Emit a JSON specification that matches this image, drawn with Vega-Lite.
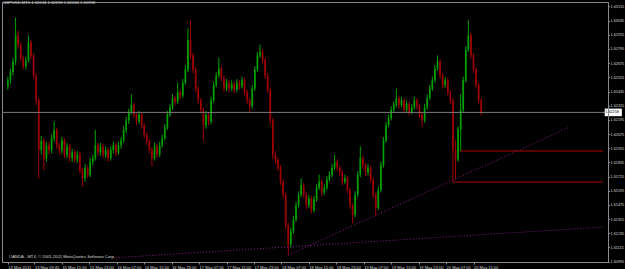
{
  "$schema": "https://vega.github.io/schema/vega-lite/v6.json",
  "width": 606,
  "height": 260,
  "autosize": "none",
  "padding": {"left": 2, "top": 2, "right": 17, "bottom": 7},
  "background": "#000000",
  "config": {
    "view": {"stroke": "#8a8a8a", "strokeWidth": 1},
    "text": {"font": "Liberation Sans"}
  },
  "title": {"text": "GBPUSD,M15  1.62244 1.62258 1.62244 1.62258", "anchor": "start", "frame": "group", "orient": "top", "baseline": "top", "offset": -3, "dx": 1, "fontSize": 4.2, "font": "Liberation Sans", "fontWeight": "normal", "color": "#d8d8d8"},
  "resolve": {"axis": {"x": "independent", "y": "independent"}},
  "datasets": {
    "candles": [
      {"i":0,"o":1.6248,"h":1.6256,"l":1.6245,"c":1.6253},
      {"i":3,"o":1.6253,"h":1.6263,"l":1.6250,"c":1.6260},
      {"i":6,"o":1.6260,"h":1.6272,"l":1.6257,"c":1.6269},
      {"i":9,"o":1.6269,"h":1.6306,"l":1.6266,"c":1.6291},
      {"i":12,"o":1.6291,"h":1.6295,"l":1.6280,"c":1.6283},
      {"i":15,"o":1.6283,"h":1.6285,"l":1.6269,"c":1.6272},
      {"i":18,"o":1.6272,"h":1.6274,"l":1.6262,"c":1.6265},
      {"i":21,"o":1.6265,"h":1.6273,"l":1.6262,"c":1.6270},
      {"i":24,"o":1.6270,"h":1.6291,"l":1.6268,"c":1.6285},
      {"i":27,"o":1.6285,"h":1.6287,"l":1.6271,"c":1.6274},
      {"i":30,"o":1.6274,"h":1.6276,"l":1.6254,"c":1.6257},
      {"i":33,"o":1.6257,"h":1.6259,"l":1.6232,"c":1.6236},
      {"i":36,"o":1.6236,"h":1.6238,"l":1.6170,"c":1.6194},
      {"i":39,"o":1.6194,"h":1.6206,"l":1.6190,"c":1.6202},
      {"i":42,"o":1.6202,"h":1.6204,"l":1.6177,"c":1.6187},
      {"i":45,"o":1.6187,"h":1.6201,"l":1.6184,"c":1.6198},
      {"i":48,"o":1.6198,"h":1.6201,"l":1.6190,"c":1.6194},
      {"i":51,"o":1.6194,"h":1.6207,"l":1.6191,"c":1.6204},
      {"i":54,"o":1.6204,"h":1.6218,"l":1.6201,"c":1.6211},
      {"i":57,"o":1.6211,"h":1.6213,"l":1.6195,"c":1.6198},
      {"i":60,"o":1.6198,"h":1.6200,"l":1.6190,"c":1.6194},
      {"i":63,"o":1.6194,"h":1.6205,"l":1.6191,"c":1.6202},
      {"i":66,"o":1.6202,"h":1.6204,"l":1.6187,"c":1.6190},
      {"i":69,"o":1.6190,"h":1.6200,"l":1.6187,"c":1.6197},
      {"i":72,"o":1.6197,"h":1.6199,"l":1.6184,"c":1.6187},
      {"i":75,"o":1.6187,"h":1.6195,"l":1.6184,"c":1.6192},
      {"i":78,"o":1.6192,"h":1.6194,"l":1.6183,"c":1.6186},
      {"i":81,"o":1.6186,"h":1.6193,"l":1.6183,"c":1.6190},
      {"i":84,"o":1.6190,"h":1.6192,"l":1.6174,"c":1.6177},
      {"i":87,"o":1.6177,"h":1.6179,"l":1.6163,"c":1.6170},
      {"i":90,"o":1.6170,"h":1.6182,"l":1.6167,"c":1.6179},
      {"i":93,"o":1.6179,"h":1.6181,"l":1.6170,"c":1.6173},
      {"i":96,"o":1.6173,"h":1.6187,"l":1.6171,"c":1.6184},
      {"i":99,"o":1.6184,"h":1.6190,"l":1.6181,"c":1.6187},
      {"i":102,"o":1.6187,"h":1.6211,"l":1.6185,"c":1.6198},
      {"i":105,"o":1.6198,"h":1.6200,"l":1.6189,"c":1.6192},
      {"i":108,"o":1.6192,"h":1.6200,"l":1.6189,"c":1.6197},
      {"i":111,"o":1.6197,"h":1.6199,"l":1.6187,"c":1.6190},
      {"i":114,"o":1.6190,"h":1.6197,"l":1.6187,"c":1.6194},
      {"i":117,"o":1.6194,"h":1.6196,"l":1.6184,"c":1.6187},
      {"i":120,"o":1.6187,"h":1.6197,"l":1.6185,"c":1.6194},
      {"i":123,"o":1.6194,"h":1.6201,"l":1.6191,"c":1.6198},
      {"i":126,"o":1.6198,"h":1.6200,"l":1.6189,"c":1.6192},
      {"i":129,"o":1.6192,"h":1.6201,"l":1.6190,"c":1.6198},
      {"i":132,"o":1.6198,"h":1.6205,"l":1.6195,"c":1.6202},
      {"i":135,"o":1.6202,"h":1.6214,"l":1.6200,"c":1.6211},
      {"i":138,"o":1.6211,"h":1.6222,"l":1.6208,"c":1.6219},
      {"i":141,"o":1.6219,"h":1.6229,"l":1.6216,"c":1.6226},
      {"i":144,"o":1.6226,"h":1.6241,"l":1.6224,"c":1.6232},
      {"i":147,"o":1.6232,"h":1.6234,"l":1.6221,"c":1.6224},
      {"i":150,"o":1.6224,"h":1.6226,"l":1.6215,"c":1.6218},
      {"i":153,"o":1.6218,"h":1.6227,"l":1.6216,"c":1.6224},
      {"i":156,"o":1.6224,"h":1.6226,"l":1.6212,"c":1.6215},
      {"i":159,"o":1.6215,"h":1.6217,"l":1.6204,"c":1.6207},
      {"i":162,"o":1.6207,"h":1.6209,"l":1.6198,"c":1.6201},
      {"i":165,"o":1.6201,"h":1.6203,"l":1.6191,"c":1.6194},
      {"i":168,"o":1.6194,"h":1.6196,"l":1.6180,"c":1.6187},
      {"i":171,"o":1.6187,"h":1.6200,"l":1.6185,"c":1.6197},
      {"i":174,"o":1.6197,"h":1.6199,"l":1.6187,"c":1.6190},
      {"i":177,"o":1.6190,"h":1.6201,"l":1.6188,"c":1.6198},
      {"i":180,"o":1.6198,"h":1.6207,"l":1.6196,"c":1.6204},
      {"i":183,"o":1.6204,"h":1.6216,"l":1.6202,"c":1.6213},
      {"i":186,"o":1.6213,"h":1.6227,"l":1.6211,"c":1.6224},
      {"i":189,"o":1.6224,"h":1.6233,"l":1.6222,"c":1.6230},
      {"i":192,"o":1.6230,"h":1.6241,"l":1.6228,"c":1.6238},
      {"i":195,"o":1.6238,"h":1.6240,"l":1.6232,"c":1.6235},
      {"i":198,"o":1.6235,"h":1.6251,"l":1.6233,"c":1.6243},
      {"i":201,"o":1.6243,"h":1.6245,"l":1.6237,"c":1.6240},
      {"i":204,"o":1.6240,"h":1.6254,"l":1.6238,"c":1.6251},
      {"i":207,"o":1.6251,"h":1.6266,"l":1.6249,"c":1.6262},
      {"i":210,"o":1.6262,"h":1.6297,"l":1.6260,"c":1.6287},
      {"i":213,"o":1.6287,"h":1.6304,"l":1.6271,"c":1.6274},
      {"i":216,"o":1.6274,"h":1.6276,"l":1.6259,"c":1.6262},
      {"i":219,"o":1.6262,"h":1.6264,"l":1.6243,"c":1.6246},
      {"i":222,"o":1.6246,"h":1.6248,"l":1.6233,"c":1.6236},
      {"i":225,"o":1.6236,"h":1.6238,"l":1.6225,"c":1.6228},
      {"i":228,"o":1.6228,"h":1.6230,"l":1.6202,"c":1.6215},
      {"i":231,"o":1.6215,"h":1.6227,"l":1.6212,"c":1.6224},
      {"i":234,"o":1.6224,"h":1.6226,"l":1.6215,"c":1.6218},
      {"i":237,"o":1.6218,"h":1.6239,"l":1.6216,"c":1.6236},
      {"i":240,"o":1.6236,"h":1.6252,"l":1.6234,"c":1.6249},
      {"i":243,"o":1.6249,"h":1.6260,"l":1.6247,"c":1.6257},
      {"i":246,"o":1.6257,"h":1.6272,"l":1.6255,"c":1.6263},
      {"i":249,"o":1.6263,"h":1.6265,"l":1.6252,"c":1.6255},
      {"i":252,"o":1.6255,"h":1.6257,"l":1.6243,"c":1.6246},
      {"i":255,"o":1.6246,"h":1.6254,"l":1.6244,"c":1.6251},
      {"i":258,"o":1.6251,"h":1.6253,"l":1.6243,"c":1.6246},
      {"i":261,"o":1.6246,"h":1.6253,"l":1.6244,"c":1.6250},
      {"i":264,"o":1.6250,"h":1.6252,"l":1.6242,"c":1.6245},
      {"i":267,"o":1.6245,"h":1.6254,"l":1.6243,"c":1.6251},
      {"i":270,"o":1.6251,"h":1.6253,"l":1.6245,"c":1.6248},
      {"i":273,"o":1.6248,"h":1.6256,"l":1.6246,"c":1.6253},
      {"i":276,"o":1.6253,"h":1.6255,"l":1.6240,"c":1.6243},
      {"i":279,"o":1.6243,"h":1.6245,"l":1.6233,"c":1.6236},
      {"i":282,"o":1.6236,"h":1.6238,"l":1.6226,"c":1.6231},
      {"i":285,"o":1.6231,"h":1.6249,"l":1.6229,"c":1.6246},
      {"i":288,"o":1.6246,"h":1.6265,"l":1.6244,"c":1.6262},
      {"i":291,"o":1.6262,"h":1.6277,"l":1.6260,"c":1.6274},
      {"i":294,"o":1.6274,"h":1.6283,"l":1.6272,"c":1.6277},
      {"i":297,"o":1.6277,"h":1.6279,"l":1.6267,"c":1.6270},
      {"i":300,"o":1.6270,"h":1.6272,"l":1.6254,"c":1.6257},
      {"i":303,"o":1.6257,"h":1.6259,"l":1.6242,"c":1.6245},
      {"i":306,"o":1.6245,"h":1.6247,"l":1.6216,"c":1.6219},
      {"i":309,"o":1.6219,"h":1.6221,"l":1.6186,"c":1.6190},
      {"i":312,"o":1.6190,"h":1.6193,"l":1.6182,"c":1.6186},
      {"i":315,"o":1.6186,"h":1.6188,"l":1.6176,"c":1.6179},
      {"i":318,"o":1.6179,"h":1.6181,"l":1.6164,"c":1.6167},
      {"i":321,"o":1.6167,"h":1.6169,"l":1.6153,"c":1.6156},
      {"i":324,"o":1.6156,"h":1.6158,"l":1.6127,"c":1.6130},
      {"i":327,"o":1.6130,"h":1.6132,"l":1.6105,"c":1.6114},
      {"i":330,"o":1.6114,"h":1.6128,"l":1.6111,"c":1.6125},
      {"i":333,"o":1.6125,"h":1.6138,"l":1.6123,"c":1.6135},
      {"i":336,"o":1.6135,"h":1.6150,"l":1.6133,"c":1.6147},
      {"i":339,"o":1.6147,"h":1.6159,"l":1.6145,"c":1.6156},
      {"i":342,"o":1.6156,"h":1.6170,"l":1.6154,"c":1.6164},
      {"i":345,"o":1.6164,"h":1.6166,"l":1.6153,"c":1.6156},
      {"i":348,"o":1.6156,"h":1.6158,"l":1.6144,"c":1.6147},
      {"i":351,"o":1.6147,"h":1.6156,"l":1.6145,"c":1.6153},
      {"i":354,"o":1.6153,"h":1.6155,"l":1.6140,"c":1.6143},
      {"i":357,"o":1.6143,"h":1.6155,"l":1.6141,"c":1.6152},
      {"i":360,"o":1.6152,"h":1.6165,"l":1.6150,"c":1.6162},
      {"i":363,"o":1.6162,"h":1.6173,"l":1.6160,"c":1.6167},
      {"i":366,"o":1.6167,"h":1.6169,"l":1.6155,"c":1.6158},
      {"i":369,"o":1.6158,"h":1.6165,"l":1.6156,"c":1.6162},
      {"i":372,"o":1.6162,"h":1.6172,"l":1.6160,"c":1.6169},
      {"i":375,"o":1.6169,"h":1.6176,"l":1.6167,"c":1.6173},
      {"i":378,"o":1.6173,"h":1.6182,"l":1.6171,"c":1.6179},
      {"i":381,"o":1.6179,"h":1.6190,"l":1.6177,"c":1.6184},
      {"i":384,"o":1.6184,"h":1.6186,"l":1.6176,"c":1.6179},
      {"i":387,"o":1.6179,"h":1.6181,"l":1.6172,"c":1.6175},
      {"i":390,"o":1.6175,"h":1.6177,"l":1.6164,"c":1.6167},
      {"i":393,"o":1.6167,"h":1.6173,"l":1.6165,"c":1.6170},
      {"i":396,"o":1.6170,"h":1.6172,"l":1.6157,"c":1.6160},
      {"i":399,"o":1.6160,"h":1.6162,"l":1.6144,"c":1.6147},
      {"i":402,"o":1.6147,"h":1.6149,"l":1.6132,"c":1.6139},
      {"i":405,"o":1.6139,"h":1.6159,"l":1.6137,"c":1.6156},
      {"i":408,"o":1.6156,"h":1.6176,"l":1.6154,"c":1.6173},
      {"i":411,"o":1.6173,"h":1.6197,"l":1.6171,"c":1.6187},
      {"i":414,"o":1.6187,"h":1.6189,"l":1.6178,"c":1.6181},
      {"i":417,"o":1.6181,"h":1.6183,"l":1.6172,"c":1.6175},
      {"i":420,"o":1.6175,"h":1.6182,"l":1.6173,"c":1.6179},
      {"i":423,"o":1.6179,"h":1.6181,"l":1.6166,"c":1.6169},
      {"i":426,"o":1.6169,"h":1.6171,"l":1.6153,"c":1.6156},
      {"i":429,"o":1.6156,"h":1.6158,"l":1.6138,"c":1.6145},
      {"i":432,"o":1.6145,"h":1.6163,"l":1.6143,"c":1.6160},
      {"i":435,"o":1.6160,"h":1.6184,"l":1.6158,"c":1.6181},
      {"i":438,"o":1.6181,"h":1.6205,"l":1.6179,"c":1.6202},
      {"i":441,"o":1.6202,"h":1.6218,"l":1.6200,"c":1.6215},
      {"i":444,"o":1.6215,"h":1.6224,"l":1.6213,"c":1.6221},
      {"i":447,"o":1.6221,"h":1.6231,"l":1.6219,"c":1.6228},
      {"i":450,"o":1.6228,"h":1.6235,"l":1.6226,"c":1.6232},
      {"i":453,"o":1.6232,"h":1.6246,"l":1.6230,"c":1.6238},
      {"i":456,"o":1.6238,"h":1.6240,"l":1.6229,"c":1.6232},
      {"i":459,"o":1.6232,"h":1.6239,"l":1.6230,"c":1.6236},
      {"i":462,"o":1.6236,"h":1.6238,"l":1.6225,"c":1.6228},
      {"i":465,"o":1.6228,"h":1.6236,"l":1.6226,"c":1.6233},
      {"i":468,"o":1.6233,"h":1.6235,"l":1.6223,"c":1.6226},
      {"i":471,"o":1.6226,"h":1.6233,"l":1.6224,"c":1.6230},
      {"i":474,"o":1.6230,"h":1.6239,"l":1.6228,"c":1.6236},
      {"i":477,"o":1.6236,"h":1.6238,"l":1.6228,"c":1.6231},
      {"i":480,"o":1.6231,"h":1.6233,"l":1.6221,"c":1.6224},
      {"i":483,"o":1.6224,"h":1.6226,"l":1.6214,"c":1.6219},
      {"i":486,"o":1.6219,"h":1.6233,"l":1.6217,"c":1.6230},
      {"i":489,"o":1.6230,"h":1.6241,"l":1.6228,"c":1.6238},
      {"i":492,"o":1.6238,"h":1.6249,"l":1.6236,"c":1.6246},
      {"i":495,"o":1.6246,"h":1.6256,"l":1.6244,"c":1.6253},
      {"i":498,"o":1.6253,"h":1.6266,"l":1.6251,"c":1.6263},
      {"i":501,"o":1.6263,"h":1.6274,"l":1.6261,"c":1.6269},
      {"i":504,"o":1.6269,"h":1.6271,"l":1.6254,"c":1.6257},
      {"i":507,"o":1.6257,"h":1.6259,"l":1.6246,"c":1.6249},
      {"i":510,"o":1.6249,"h":1.6256,"l":1.6247,"c":1.6253},
      {"i":513,"o":1.6253,"h":1.6255,"l":1.6240,"c":1.6243},
      {"i":516,"o":1.6243,"h":1.6245,"l":1.6233,"c":1.6236},
      {"i":519,"o":1.6236,"h":1.6238,"l":1.61668,"c":1.6194},
      {"i":522,"o":1.6194,"h":1.6202,"l":1.6169,"c":1.6186},
      {"i":525,"o":1.6186,"h":1.6214,"l":1.6184,"c":1.6211},
      {"i":528,"o":1.6211,"h":1.6241,"l":1.61931,"c":1.6228},
      {"i":531,"o":1.6228,"h":1.6256,"l":1.6226,"c":1.6253},
      {"i":534,"o":1.6253,"h":1.6282,"l":1.6251,"c":1.6279},
      {"i":537,"o":1.6279,"h":1.6304,"l":1.6277,"c":1.6291},
      {"i":540,"o":1.6291,"h":1.6293,"l":1.6271,"c":1.6274},
      {"i":543,"o":1.6274,"h":1.6276,"l":1.6259,"c":1.6262},
      {"i":546,"o":1.6262,"h":1.6264,"l":1.6246,"c":1.6249},
      {"i":549,"o":1.6249,"h":1.6251,"l":1.6233,"c":1.6236},
      {"i":552,"o":1.6236,"h":1.6238,"l":1.6223,"c":1.62258}
    ],
    "levels": [
      {"i":519,"i2":694,"p":1.61668},
      {"i":528,"i2":694,"p":1.61931}
    ],
    "trend": [
      {"name":"A","i":327,"p":1.6105},
      {"name":"A","i":655,"p":1.62134},
      {"name":"B","i":123,"p":1.61026},
      {"name":"B","i":694,"p":1.61287}
    ],
    "bid": [{"p":1.62258,"label":"1.62258"}],
    "note": [{"i":-1,"p":1.61033,"label":"OANDA - MT4, © 2001-2011 MetaQuotes Software Corp."}]
  },
  "layer": [
    {
      "data": {"name": "candles"},
      "mark": {"type": "rule", "strokeWidth": 1},
      "encoding": {
        "x": {"field": "i", "type": "quantitative", "scale": {"domain": [-1, 694], "nice": false, "zero": false},
          "axis": {"orient": "bottom", "title": null, "grid": false, "domain": false,
            "values": [0,31,63,95,127,159,191,223,255,287,319,351,383,415,447,479,511,543],
            "labelExpr": "['13 May 2011','13 May 09:45','15 May 15:00','15 May 23:00','16 May 07:00','16 May 15:00','16 May 23:00','17 May 07:00','17 May 15:00','17 May 23:00','18 May 07:00','18 May 15:00','18 May 23:00','19 May 07:00','19 May 15:00','19 May 23:00','20 May 07:00','20 May 15:00'][round((datum.value+1)/32)]",
            "labelAlign": "left", "labelBaseline": "top", "labelPadding": 1, "labelFont": "Liberation Sans", "labelFontSize": 4, "labelColor": "#d8d8d8",
            "labelOverlap": false, "tickSize": 2, "tickColor": "#8a8a8a", "zindex": 2}},
        "y": {"field": "l", "type": "quantitative", "scale": {"domain": [1.60991, 1.63193], "nice": false, "zero": false},
          "axis": {"orient": "right", "title": null, "grid": false, "domainColor": "#8a8a8a",
            "values": [1.63155,1.63035,1.62915,1.62795,1.62675,1.62555,1.62435,1.62315,1.62195,1.62075,1.61955,1.61835,1.61715,1.61595,1.61475,1.61355,1.61235,1.61115,1.60995],
            "format": ".5f", "labelAlign": "left", "labelBaseline": "middle", "labelPadding": 0.5, "labelFont": "Liberation Sans", "labelFontSize": 3.8, "labelColor": "#d8d8d8",
            "labelOverlap": false, "tickSize": 1.5, "tickColor": "#8a8a8a", "zindex": 2}},
        "y2": {"field": "h"},
        "color": {"condition": {"test": "datum.c >= datum.o", "value": "#00a000"}, "value": "#a00000"}
      }
    },
    {
      "data": {"name": "candles"},
      "mark": {"type": "bar", "width": 1.7},
      "encoding": {
        "x": {"field": "i", "type": "quantitative", "scale": {"domain": [-1, 694], "nice": false, "zero": false}, "axis": null},
        "y": {"field": "o", "type": "quantitative", "scale": {"domain": [1.60991, 1.63193], "nice": false, "zero": false}, "axis": null},
        "y2": {"field": "c"},
        "color": {"condition": {"test": "datum.c >= datum.o", "value": "#00a000"}, "value": "#a00000"}
      }
    },
    {
      "data": {"name": "bid"},
      "mark": {"type": "rule", "color": "#7a7a7a", "strokeWidth": 1},
      "encoding": {
        "y": {"field": "p", "type": "quantitative", "scale": {"domain": [1.60991, 1.63193], "nice": false, "zero": false}, "axis": null}
      }
    },
    {
      "data": {"name": "levels"},
      "mark": {"type": "rule", "color": "#b00000", "strokeWidth": 1},
      "encoding": {
        "x": {"field": "i", "type": "quantitative", "scale": {"domain": [-1, 694], "nice": false, "zero": false}, "axis": null},
        "x2": {"field": "i2"},
        "y": {"field": "p", "type": "quantitative", "scale": {"domain": [1.60991, 1.63193], "nice": false, "zero": false}, "axis": null}
      }
    },
    {
      "data": {"name": "trend"},
      "mark": {"type": "line", "color": "#8c1a8c", "strokeWidth": 1, "strokeDash": [1, 2]},
      "encoding": {
        "x": {"field": "i", "type": "quantitative", "scale": {"domain": [-1, 694], "nice": false, "zero": false}, "axis": null},
        "y": {"field": "p", "type": "quantitative", "scale": {"domain": [1.60991, 1.63193], "nice": false, "zero": false}, "axis": null},
        "detail": {"field": "name"}
      }
    },
    {
      "data": {"name": "bid"},
      "mark": {"type": "rect", "fill": "#ffffff", "clip": false},
      "encoding": {
        "x": {"datum": 696, "type": "quantitative", "scale": {"domain": [-1, 694], "nice": false, "zero": false}, "axis": null},
        "x2": {"datum": 716},
        "y": {"datum": 1.6229, "type": "quantitative", "scale": {"domain": [1.60991, 1.63193], "nice": false, "zero": false}, "axis": null},
        "y2": {"datum": 1.62226}
      }
    },
    {
      "data": {"name": "bid"},
      "mark": {"type": "text", "align": "left", "baseline": "middle", "fontSize": 3.8, "font": "Liberation Sans", "color": "#000000", "dx": 0.5},
      "encoding": {
        "x": {"datum": 696, "type": "quantitative", "scale": {"domain": [-1, 694], "nice": false, "zero": false}, "axis": null},
        "y": {"field": "p", "type": "quantitative", "scale": {"domain": [1.60991, 1.63193], "nice": false, "zero": false}, "axis": null},
        "text": {"field": "label"}
      }
    },
    {
      "data": {"name": "note"},
      "mark": {"type": "text", "align": "left", "baseline": "middle", "fontSize": 4.2, "font": "Liberation Sans", "color": "#d8d8d8", "dx": 2},
      "encoding": {
        "x": {"field": "i", "type": "quantitative", "scale": {"domain": [-1, 694], "nice": false, "zero": false}, "axis": null},
        "y": {"field": "p", "type": "quantitative", "scale": {"domain": [1.60991, 1.63193], "nice": false, "zero": false}, "axis": null},
        "text": {"field": "label"}
      }
    }
  ]
}
